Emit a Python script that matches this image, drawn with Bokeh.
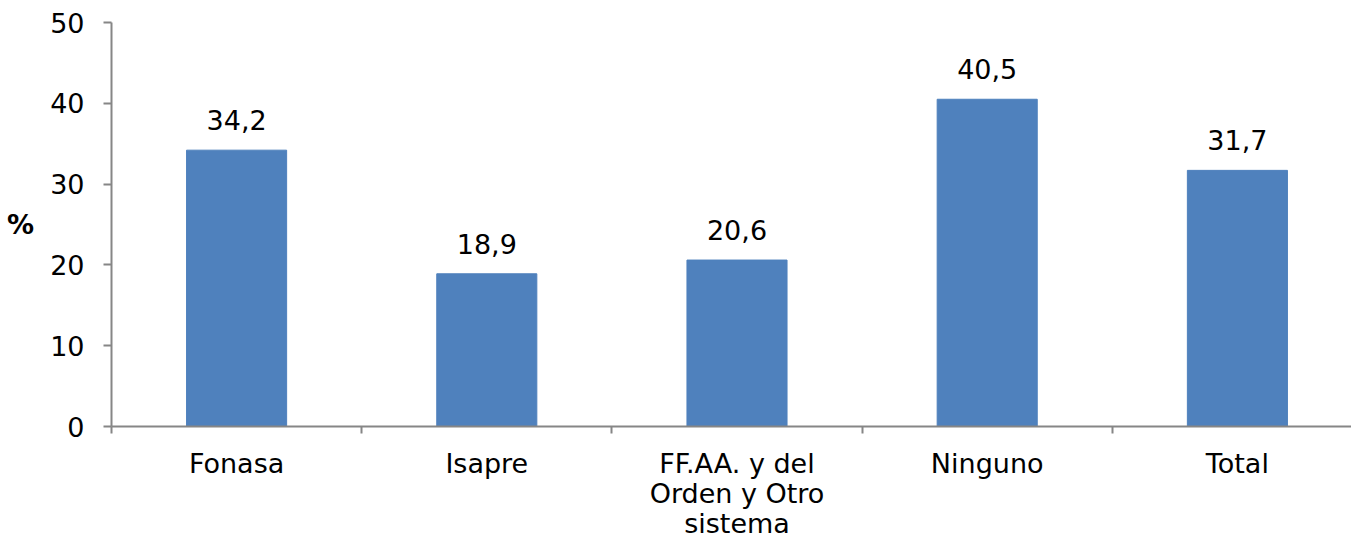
from bokeh.plotting import figure
from bokeh.models import ColumnDataSource, FixedTicker, Range1d
from bokeh.core.properties import value
from bokeh.embed import file_html
from bokeh.resources import INLINE

categories = ["Fonasa", "Isapre", "FF.AA. y del\nOrden y Otro\nsistema", "Ninguno", "Total"]
values = [34.2, 18.9, 20.6, 40.5, 31.7]
y_ticks = [0, 10, 20, 30, 40, 50]

xs = list(range(len(categories)))
labels = [f"{v:.1f}".replace(".", ",") for v in values]
src = ColumnDataSource(dict(x=xs, top=values, label=labels))

FONT = "DejaVu Sans"
FS = "27px"
AX = "#868686"

p = figure(frame_width=1240, frame_height=404, output_backend="svg", toolbar_location=None,
           x_range=Range1d(-0.5, -0.5 + 1240 / 250.2), y_range=Range1d(0, 50),
           min_border_left=111, min_border_right=0, min_border_top=22, min_border_bottom=0)
p.outline_line_color = None
p.xgrid.visible = False
p.ygrid.visible = False

p.vbar(x="x", top="top", width=0.4, bottom=0, source=src, color="#4F81BD")
p.text(x="x", y="top", text="label", source=src, text_align="center", text_baseline="alphabetic",
       y_offset=-30, text_font=value(FONT), text_font_size=FS, text_color="#000000")

xa = p.xaxis[0]
xa.ticker = FixedTicker(ticks=xs, minor_ticks=[i - 0.5 for i in range(len(categories) + 1)])
xa.major_label_overrides = {i: c for i, c in enumerate(categories)}
xa.major_tick_out = 0
xa.major_tick_in = 0
xa.minor_tick_out = 7
xa.minor_tick_in = 0
xa.minor_tick_line_color = AX
xa.minor_tick_line_width = 2
xa.axis_line_color = AX
xa.axis_line_width = 2
xa.major_label_text_font = FONT
xa.major_label_text_font_size = FS
xa.major_label_text_line_height = 0.97
xa.major_label_text_color = "#000000"
xa.major_label_standoff = 14

ya = p.yaxis[0]
ya.ticker = FixedTicker(ticks=y_ticks)
ya.minor_tick_line_color = None
ya.major_tick_out = 8
ya.major_tick_in = 0
ya.major_tick_line_color = AX
ya.major_tick_line_width = 2
ya.axis_line_color = AX
ya.axis_line_width = 2
ya.major_label_text_font = FONT
ya.major_label_text_font_size = FS
ya.major_label_text_color = "#000000"
ya.major_label_standoff = 19
ya.axis_label = "%"
ya.axis_label_orientation = "horizontal"
ya.axis_label_text_font = FONT
ya.axis_label_text_font_size = FS
ya.axis_label_text_font_style = "bold"
ya.axis_label_text_color = "#000000"
ya.axis_label_standoff = 13

html = file_html(p, INLINE)
html = html.replace("</head>", "<style>html, body { overflow: hidden; }</style>\n</head>", 1)
open("out.html", "w").write(html)
